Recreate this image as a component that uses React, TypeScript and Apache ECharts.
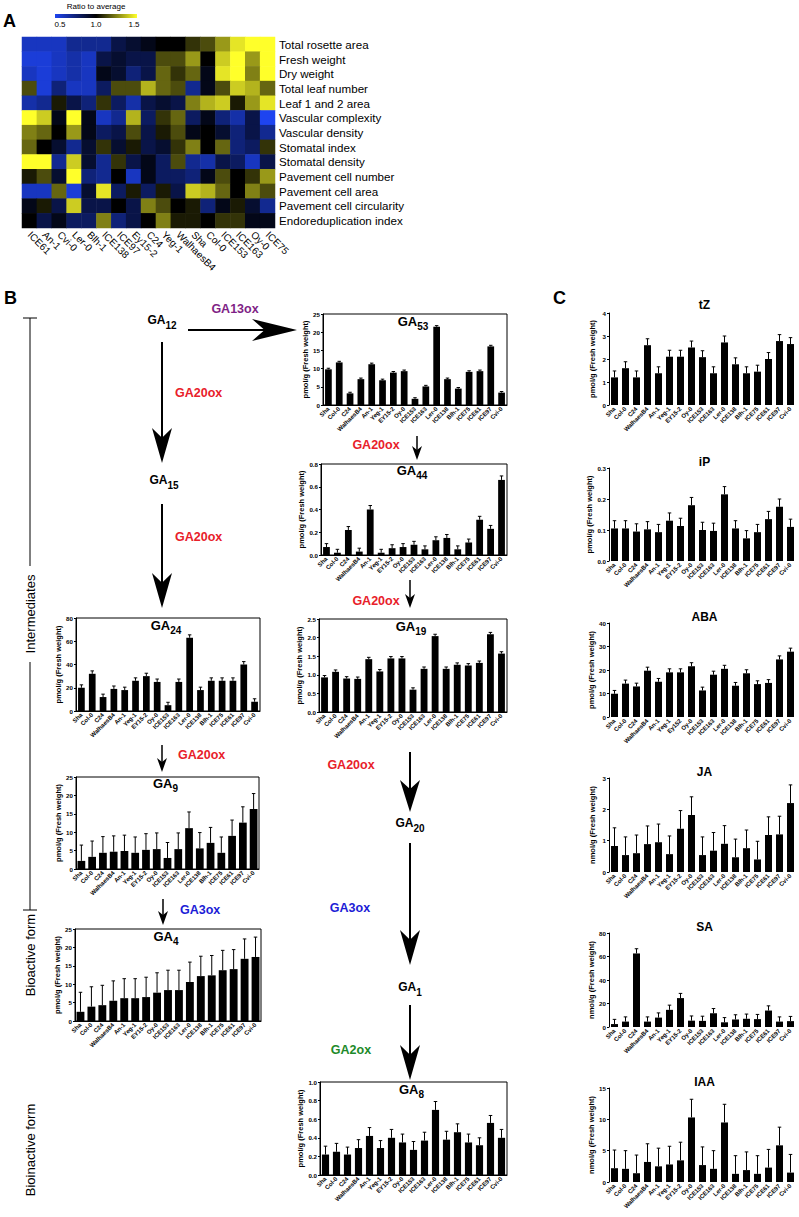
import React, { useEffect, useRef } from 'react';
import * as echarts from 'echarts';

const FONT = '"Liberation Sans", Arial, Helvetica, sans-serif';
const BLUE = '#1e44f0';
const YELLOW = '#ffff2a';

// ---------------- Panel A data ----------------
const heatColumns = ['ICE61', 'An-1', 'Cvi-0', 'Ler-0', 'Blh-1', 'ICE138', 'ICE97', 'Ey15-2', 'C24', 'Yeg-1', 'WalhaesB4', 'Sha', 'Col-0', 'ICE153', 'ICE163', 'Oy-0', 'ICE75'];
const traits = ['Total rosette area', 'Fresh weight', 'Dry weight', 'Total leaf number', 'Leaf 1 and 2 area', 'Vascular complexity', 'Vascular density', 'Stomatal index', 'Stomatal density', 'Pavement cell number', 'Pavement cell area', 'Pavement cell circularity', 'Endoreduplication index'];
const rowTotalRosette = [0.6, 0.6, 0.6, 0.7, 0.7, 0.7, 0.85, 0.9, 0.95, 1.0, 1.0, 1.1, 1.15, 1.3, 1.45, 1.5, 1.5];
const rowFreshWeight = [0.55, 0.55, 0.6, 0.65, 0.6, 0.85, 0.9, 0.85, 0.85, 1.15, 1.15, 1.3, 1.0, 1.4, 1.5, 1.3, 1.5];
const rowDryWeight = [0.6, 0.55, 0.6, 0.65, 0.6, 0.95, 0.9, 0.75, 0.85, 1.2, 1.1, 1.2, 0.95, 1.45, 1.5, 1.25, 1.5];
const rowLeafNumber = [1.15, 0.55, 0.75, 0.6, 0.6, 0.8, 1.15, 1.15, 1.35, 1.2, 1.15, 0.7, 0.95, 1.15, 1.4, 1.35, 1.2];
const rowLeafArea = [0.65, 0.7, 1.05, 0.85, 0.75, 1.1, 0.8, 0.65, 0.85, 0.9, 0.85, 1.25, 1.35, 1.4, 1.05, 1.3, 1.45];
const rowVascComplexity = [1.5, 1.4, 0.95, 1.5, 0.95, 0.6, 0.7, 1.35, 0.8, 1.1, 1.2, 0.8, 0.95, 0.75, 0.65, 0.85, 0.5];
const rowVascDensity = [1.25, 1.2, 1.0, 1.3, 0.95, 0.8, 0.85, 1.15, 0.85, 1.05, 1.15, 0.95, 1.0, 0.9, 0.75, 0.85, 0.7];
const rowStomIndex = [1.2, 1.0, 0.9, 0.7, 0.9, 1.1, 0.9, 1.05, 0.85, 0.9, 1.1, 1.25, 1.0, 1.2, 0.75, 0.8, 1.1];
const rowStomDensity = [1.5, 1.5, 0.7, 1.4, 0.9, 0.7, 1.1, 0.85, 0.95, 0.8, 1.15, 0.7, 0.65, 0.85, 0.8, 0.6, 0.85];
const rowPavNumber = [1.05, 1.15, 0.9, 1.5, 0.75, 0.7, 1.0, 0.6, 0.95, 0.8, 0.8, 0.75, 0.95, 1.15, 1.0, 1.1, 1.3];
const rowPavArea = [0.6, 0.6, 1.2, 0.55, 0.9, 1.45, 0.8, 1.05, 0.8, 1.05, 0.85, 1.4, 1.35, 1.2, 1.0, 1.25, 1.15];
const rowPavCirc = [0.95, 1.05, 0.85, 1.4, 0.85, 0.85, 1.0, 0.85, 1.25, 1.15, 1.0, 1.05, 0.75, 0.95, 1.05, 0.9, 0.7];
const rowEndo = [1.0, 0.85, 0.95, 0.8, 0.8, 1.25, 0.75, 0.85, 1.0, 1.25, 1.05, 1.05, 1.0, 1.1, 1.1, 0.95, 0.95];
const heatRows = [rowTotalRosette, rowFreshWeight, rowDryWeight, rowLeafNumber, rowLeafArea, rowVascComplexity, rowVascDensity, rowStomIndex, rowStomDensity, rowPavNumber, rowPavArea, rowPavCirc, rowEndo];
const ratioTicks = ['0.5', '1.0', '1.5'];

// ---------------- Panels B / C data ----------------
const accessions = ['Sha', 'Col-0', 'C24', 'WalhaesB4', 'An-1', 'Yeg-1', 'EY15-2', 'Oy-0', 'ICE153', 'ICE163', 'Ler-0', 'ICE138', 'Blh-1', 'ICE75', 'ICE61', 'ICE97', 'Cvi-0'];
const accessionsABA = ['Sha', 'Col-0', 'C24', 'WalhaesB4', 'An-1', 'Yeg-1', 'Ey152', 'Oy-0', 'ICE153', 'ICE163', 'Ler-0', 'ICE138', 'Blh-1', 'ICE75', 'ICE61', 'ICE97', 'Cvi-0'];

const ga53 = [9.8, 11.7, 3.2, 7.1, 11.2, 6.8, 8.9, 9.3, 1.7, 5.1, 21.5, 7.1, 4.5, 9.1, 9.3, 16.1, 3.4];
const ga53Err = [0.3, 0.3, 0.3, 0.3, 0.3, 0.3, 0.3, 0.3, 0.3, 0.3, 0.3, 0.3, 0.3, 0.3, 0.3, 0.3, 0.3];
const ga44 = [0.07, 0.02, 0.22, 0.03, 0.4, 0.02, 0.06, 0.07, 0.09, 0.05, 0.13, 0.15, 0.05, 0.11, 0.31, 0.23, 0.66];
const ga44Err = [0.03, 0.03, 0.03, 0.03, 0.035, 0.03, 0.03, 0.03, 0.03, 0.03, 0.03, 0.03, 0.03, 0.03, 0.03, 0.03, 0.035];
const ga19 = [0.93, 1.08, 0.9, 0.89, 1.42, 1.09, 1.44, 1.44, 0.6, 1.16, 2.04, 1.16, 1.27, 1.25, 1.32, 2.09, 1.57];
const ga19Err = [0.05, 0.05, 0.05, 0.05, 0.05, 0.05, 0.05, 0.05, 0.05, 0.05, 0.05, 0.05, 0.05, 0.05, 0.05, 0.05, 0.05];
const ga24 = [20, 32, 12, 19, 18, 26, 30, 25, 5, 25, 63, 18, 26, 26, 26, 40, 8];
const ga24Err = [2.5, 2.5, 2.5, 2.5, 2.5, 2.5, 2.5, 2.5, 2.5, 2.5, 2.5, 2.5, 2.5, 2.5, 2.5, 2.5, 2.5];
const ga9 = [2.2, 3.3, 4.4, 4.7, 4.9, 4.4, 5.2, 5.4, 3.0, 5.4, 11.1, 5.6, 7.1, 4.4, 9.0, 12.6, 16.3];
const ga9Err = [4.3, 4.3, 4.4, 4.3, 4.3, 4.3, 4.4, 4.4, 4.2, 4.4, 4.4, 4.3, 4.2, 4.3, 4.3, 4.3, 4.2];
const ga4 = [2.5, 3.9, 4.3, 5.5, 6.2, 6.2, 6.5, 7.7, 8.4, 8.4, 10.6, 12.2, 12.4, 13.8, 14.1, 16.9, 17.4];
const ga4Err = [5.3, 5.4, 5.4, 5.4, 5.3, 5.3, 5.4, 5.4, 5.4, 5.4, 5.4, 5.4, 5.4, 5.4, 5.3, 5.4, 5.4];
const ga8 = [0.22, 0.25, 0.22, 0.29, 0.42, 0.29, 0.4, 0.35, 0.27, 0.37, 0.7, 0.38, 0.46, 0.35, 0.32, 0.56, 0.4];
const ga8Err = [0.09, 0.09, 0.08, 0.09, 0.09, 0.08, 0.09, 0.09, 0.09, 0.09, 0.09, 0.09, 0.09, 0.09, 0.08, 0.08, 0.09];

const tZ = [1.2, 1.6, 1.2, 2.6, 1.38, 2.1, 2.1, 2.5, 2.08, 1.38, 2.72, 1.77, 1.38, 1.45, 2.0, 2.78, 2.65];
const tZErr = [0.28, 0.28, 0.28, 0.28, 0.28, 0.28, 0.28, 0.28, 0.28, 0.28, 0.28, 0.28, 0.28, 0.28, 0.28, 0.28, 0.28];
const iP = [0.105, 0.105, 0.095, 0.102, 0.093, 0.13, 0.113, 0.18, 0.1, 0.097, 0.215, 0.105, 0.073, 0.093, 0.135, 0.175, 0.11];
const iPErr = [0.025, 0.025, 0.025, 0.025, 0.025, 0.025, 0.025, 0.025, 0.025, 0.025, 0.025, 0.025, 0.025, 0.025, 0.025, 0.025, 0.025];
const aba = [9.9, 14.2, 13, 19.7, 15, 19, 19, 21.6, 11.3, 18, 20.5, 13.3, 18.6, 14, 14.5, 24.5, 27.8];
const abaErr = [1.4, 1.5, 1.4, 1.5, 1.4, 1.5, 1.5, 1.5, 1.4, 1.5, 1.5, 1.4, 1.5, 1.4, 1.4, 1.5, 1.5];
const ja = [0.83, 0.54, 0.6, 0.89, 0.95, 0.57, 1.38, 1.82, 0.54, 0.68, 0.9, 0.47, 0.76, 0.4, 1.18, 1.2, 2.2];
const jaErr = [0.58, 0.58, 0.58, 0.58, 0.58, 0.58, 0.58, 0.58, 0.58, 0.58, 0.58, 0.58, 0.58, 0.58, 0.58, 0.58, 0.58];
const sa = [2.5, 4.6, 62.6, 4.6, 8.0, 14.6, 24.6, 5.4, 5.2, 11.7, 4.0, 6.4, 7.0, 6.7, 14, 4.6, 5];
const saErr = [4, 4, 4, 4, 4, 4, 4, 4, 4, 4, 4, 4, 4, 4, 4, 4, 4];
const iaa = [2.2, 2.1, 1.4, 3.2, 2.5, 2.8, 3.45, 10.3, 2.7, 2.1, 9.5, 1.3, 1.9, 1.3, 2.3, 5.85, 1.5];
const iaaErr = [2.9, 2.9, 2.9, 2.9, 2.9, 2.9, 2.9, 2.9, 2.9, 2.9, 2.9, 2.9, 2.9, 2.9, 2.9, 2.9, 2.9];

const PMOL = 'pmol/g (Fresh weight)';
const NMOL = 'nmol/g (Fresh weight)';

type Panel = {
  title: string; sub?: string; vals: number[]; errs: number[]; max: number; step: number; dec: number;
  unit: string; box: [number, number, number, number]; framed: boolean; labels: string[]; titleY: number; bar: string;
};

const panels: Panel[] = [
  { title: 'GA', sub: '53', vals: ga53, errs: ga53Err, max: 25, step: 5, dec: 0, unit: PMOL, box: [323, 314, 184, 91], framed: true, labels: accessions, titleY: 325, bar: '62%' },
  { title: 'GA', sub: '44', vals: ga44, errs: ga44Err, max: 0.8, step: 0.2, dec: 1, unit: PMOL, box: [321, 464, 186, 91], framed: true, labels: accessions, titleY: 474, bar: '62%' },
  { title: 'GA', sub: '19', vals: ga19, errs: ga19Err, max: 2.5, step: 0.5, dec: 1, unit: PMOL, box: [319, 619, 188, 93], framed: true, labels: accessions, titleY: 630, bar: '62%' },
  { title: 'GA', sub: '8', vals: ga8, errs: ga8Err, max: 1.0, step: 0.2, dec: 1, unit: PMOL, box: [320, 1082, 187, 93], framed: true, labels: accessions, titleY: 1093, bar: '65%' },
  { title: 'GA', sub: '24', vals: ga24, errs: ga24Err, max: 80, step: 20, dec: 0, unit: PMOL, box: [76, 618, 184, 93], framed: true, labels: accessions, titleY: 629, bar: '62%' },
  { title: 'GA', sub: '9', vals: ga9, errs: ga9Err, max: 25, step: 5, dec: 0, unit: PMOL, box: [76, 777, 183, 92], framed: true, labels: accessions, titleY: 787, bar: '72%' },
  { title: 'GA', sub: '4', vals: ga4, errs: ga4Err, max: 25, step: 5, dec: 0, unit: PMOL, box: [75, 929, 186, 92], framed: true, labels: accessions, titleY: 940, bar: '72%' },
  { title: 'tZ', vals: tZ, errs: tZErr, max: 4, step: 1, dec: 0, unit: PMOL, box: [609, 313, 187, 92], framed: false, labels: accessions, titleY: 305, bar: '64%' },
  { title: 'iP', vals: iP, errs: iPErr, max: 0.3, step: 0.1, dec: 1, unit: PMOL, box: [609, 468, 187, 93], framed: false, labels: accessions, titleY: 462, bar: '64%' },
  { title: 'ABA', vals: aba, errs: abaErr, max: 40, step: 10, dec: 0, unit: PMOL, box: [609, 623, 187, 94], framed: false, labels: accessionsABA, titleY: 617, bar: '64%' },
  { title: 'JA', vals: ja, errs: jaErr, max: 3, step: 1, dec: 0, unit: NMOL, box: [609, 778, 187, 94], framed: false, labels: accessions, titleY: 772, bar: '64%' },
  { title: 'SA', vals: sa, errs: saErr, max: 80, step: 20, dec: 0, unit: NMOL, box: [609, 933, 187, 94], framed: false, labels: accessions, titleY: 927, bar: '64%' },
  { title: 'IAA', vals: iaa, errs: iaaErr, max: 15, step: 5, dec: 0, unit: NMOL, box: [609, 1088, 187, 94], framed: false, labels: accessions, titleY: 1082, bar: '64%' },
];

function subText(x: number, y: number, main: string, sub: string, mainSize: number, subSize: number): any {
  return {
    type: 'text', x, y, silent: true, z: 50,
    style: {
      text: `{m|${main}}{s|${sub}}`,
      align: 'center', verticalAlign: 'middle',
      rich: {
        m: { fontSize: mainSize, fontWeight: 'bold', fontFamily: FONT, fill: '#000', lineHeight: mainSize, padding: [0, 0, 4, 0], verticalAlign: 'bottom' },
        s: { fontSize: subSize, fontWeight: 'bold', fontFamily: FONT, fill: '#000', lineHeight: subSize, verticalAlign: 'bottom' },
      },
    },
  };
}

function plainText(x: number, y: number, text: string, size: number, color: string, bold: boolean, align = 'center', rotation = 0): any {
  return {
    type: 'text', x, y, rotation, silent: true, z: 50,
    style: { text, fill: color, fontSize: size, fontWeight: bold ? 'bold' : 'normal', fontFamily: FONT, align, verticalAlign: 'middle' },
  };
}

function vArrow(x: number, y1: number, y2: number, hl: number, hw: number, lw: number): any[] {
  return [
    { type: 'line', silent: true, z: 40, shape: { x1: x, y1, x2: x, y2: y2 - hl * 0.6 }, style: { stroke: '#000', lineWidth: lw } },
    { type: 'polygon', silent: true, z: 40, shape: { points: [[x, y2], [x - hw, y2 - hl], [x, y2 - hl * 0.72], [x + hw, y2 - hl]] }, style: { fill: '#000' } },
  ];
}

function hArrow(x1: number, x2: number, y: number, hl: number, hw: number, lw: number): any[] {
  return [
    { type: 'line', silent: true, z: 40, shape: { x1, y1: y, x2: x2 - hl * 0.6, y2: y }, style: { stroke: '#000', lineWidth: lw } },
    { type: 'polygon', silent: true, z: 40, shape: { points: [[x2, y], [x2 - hl, y - hw], [x2 - hl * 0.72, y], [x2 - hl, y + hw]] }, style: { fill: '#000' } },
  ];
}

function errorSeries(idx: number, vals: number[], errs: number[]): any {
  return {
    type: 'custom', xAxisIndex: idx, yAxisIndex: idx, z: 3, silent: true,
    renderItem: (_p: any, api: any) => {
      const i = api.value(0);
      const v = api.value(1);
      const e = api.value(2);
      const p0 = api.coord([i, v]);
      const p1 = api.coord([i, v + e]);
      const w = api.size([1, 0])[0] * 0.16;
      return {
        type: 'group',
        children: [
          { type: 'line', shape: { x1: p0[0], y1: p0[1], x2: p1[0], y2: p1[1] }, style: { stroke: '#000', lineWidth: 1 } },
          { type: 'line', shape: { x1: p1[0] - w, y1: p1[1], x2: p1[0] + w, y2: p1[1] }, style: { stroke: '#000', lineWidth: 1 } },
        ],
      };
    },
    data: vals.map((v, i) => [i, v, errs[i]]),
  };
}

function buildOption(): any {
  const grid: any[] = [];
  const xAxis: any[] = [];
  const yAxis: any[] = [];
  const series: any[] = [];
  const graphic: any[] = [];

  // ---- Heatmap (panel A)
  grid.push({ left: 22, top: 37, width: 253, height: 191 });
  xAxis.push({
    type: 'category', gridIndex: 0, data: heatColumns, position: 'bottom',
    axisLine: { show: false }, axisTick: { show: false }, splitLine: { show: false },
    axisLabel: { rotate: -45, interval: 0, fontSize: 10, color: '#000', fontFamily: FONT, margin: 5 },
  });
  yAxis.push({
    type: 'category', gridIndex: 0, data: traits, inverse: true, position: 'right',
    axisLine: { show: false }, axisTick: { show: false }, splitLine: { show: false },
    axisLabel: { interval: 0, fontSize: 11.6, color: '#000', fontFamily: FONT, margin: 4 },
  });
  const heatData: number[][] = [];
  heatRows.forEach((row, r) => row.forEach((v, c) => heatData.push([c, r, v])));
  series.push({ type: 'heatmap', xAxisIndex: 0, yAxisIndex: 0, data: heatData, silent: true });

  // ---- Bar panels
  panels.forEach((p, k) => {
    const idx = k + 1;
    const [l, t, w, h] = p.box;
    grid.push({ left: l, top: t, width: w, height: h, show: p.framed, borderColor: '#000', borderWidth: 1, backgroundColor: 'transparent' });
    xAxis.push({
      type: 'category', gridIndex: idx, data: p.labels,
      axisLine: { show: p.framed, lineStyle: { color: '#000', width: 1 } },
      axisTick: { show: false }, splitLine: { show: false },
      axisLabel: { rotate: 45, interval: 0, fontSize: 6, fontWeight: 'bold', color: '#000', fontFamily: FONT, margin: 3 },
    });
    yAxis.push({
      type: 'value', gridIndex: idx, min: 0, max: p.max, interval: p.step,
      axisLine: { show: true, lineStyle: { color: '#000', width: 1 } },
      axisTick: { show: true, length: 2, lineStyle: { color: '#000' } },
      splitLine: { show: false },
      axisLabel: { fontSize: 6.2, fontWeight: 'bold', color: '#000', fontFamily: FONT, margin: 3, formatter: (v: number) => v.toFixed(p.dec) },
      name: p.unit, nameLocation: 'middle', nameGap: p.dec ? 16 : 13,
      nameTextStyle: { fontSize: 7.5, fontWeight: 'bold', color: '#000', fontFamily: FONT },
    });
    series.push({ type: 'bar', xAxisIndex: idx, yAxisIndex: idx, data: p.vals, barWidth: p.bar, itemStyle: { color: '#000' }, z: 2, silent: true });
    series.push(errorSeries(idx, p.vals, p.errs));
    const cx = l + w / 2;
    if (p.sub) graphic.push(subText(cx - 2, p.titleY, p.title, p.sub, 13, 10));
    else graphic.push(plainText(cx + 2, p.titleY, p.title, 12, '#000', true));
  });

  // ---- Panel letters
  graphic.push(plainText(3, 21, 'A', 18, '#000', true, 'left'));
  graphic.push(plainText(4, 298, 'B', 18, '#000', true, 'left'));
  graphic.push(plainText(553, 298, 'C', 18, '#000', true, 'left'));

  // ---- Colour bar
  graphic.push({
    type: 'rect', silent: true, z: 40, shape: { x: 55, y: 14, width: 82, height: 4 },
    style: { fill: new echarts.graphic.LinearGradient(0, 0, 1, 0, [{ offset: 0, color: BLUE }, { offset: 0.5, color: '#000' }, { offset: 1, color: YELLOW }]) },
  });
  graphic.push(plainText(96, 6, 'Ratio to average', 8, '#000', false));
  const tickX = [60, 96, 134];
  ratioTicks.forEach((t, i) => graphic.push(plainText(tickX[i], 24, t, 8, '#000', false)));

  // ---- Pathway (left column)
  graphic.push(subText(162, 324, 'GA', '12', 12, 10));
  graphic.push(...hArrow(188, 297, 330, 45, 11, 2));
  graphic.push(plainText(235, 309, 'GA13ox', 12.5, '#7f1f86', true));
  graphic.push(...vArrow(162, 342, 463, 35, 10, 2));
  graphic.push(plainText(175, 393, 'GA20ox', 12.5, '#e8202a', true, 'left'));
  graphic.push(subText(164, 484, 'GA', '15', 12, 10));
  graphic.push(...vArrow(162, 504, 608, 35, 10, 2));
  graphic.push(plainText(175, 537, 'GA20ox', 12.5, '#e8202a', true, 'left'));
  graphic.push(...vArrow(162, 745, 772, 14, 5, 1.5));
  graphic.push(plainText(178, 755, 'GA20ox', 12.5, '#e8202a', true, 'left'));
  graphic.push(...vArrow(163, 899, 925, 14, 5, 1.5));
  graphic.push(plainText(180, 910, 'GA3ox', 12.5, '#1c1cd6', true, 'left'));

  // ---- Pathway (middle column)
  graphic.push(...vArrow(417, 436, 460, 14, 5, 1.5));
  graphic.push(plainText(376, 445, 'GA20ox', 12.5, '#e8202a', true));
  graphic.push(...vArrow(410, 580, 608, 14, 5, 1.5));
  graphic.push(plainText(376, 601, 'GA20ox', 12.5, '#e8202a', true));
  graphic.push(...vArrow(410, 752, 812, 32, 10, 2));
  graphic.push(plainText(351, 765, 'GA20ox', 12.5, '#e8202a', true));
  graphic.push(subText(410, 827, 'GA', '20', 12, 10));
  graphic.push(...vArrow(410, 843, 965, 35, 10, 2));
  graphic.push(plainText(350, 908, 'GA3ox', 12.5, '#1c1cd6', true));
  graphic.push(subText(410, 991, 'GA', '1', 12, 10));
  graphic.push(...vArrow(410, 1005, 1080, 35, 10, 2));
  graphic.push(plainText(351, 1050, 'GA2ox', 12.5, '#1d8a2a', true));

  // ---- Left bracket and side labels
  graphic.push({ type: 'line', silent: true, z: 40, shape: { x1: 30, y1: 318, x2: 30, y2: 566 }, style: { stroke: '#000', lineWidth: 1 } });
  graphic.push({ type: 'line', silent: true, z: 40, shape: { x1: 30, y1: 662, x2: 30, y2: 910 }, style: { stroke: '#000', lineWidth: 1 } });
  graphic.push({ type: 'line', silent: true, z: 40, shape: { x1: 23, y1: 318, x2: 37, y2: 318 }, style: { stroke: '#000', lineWidth: 1 } });
  graphic.push({ type: 'line', silent: true, z: 40, shape: { x1: 23, y1: 910, x2: 37, y2: 910 }, style: { stroke: '#000', lineWidth: 1 } });
  graphic.push(plainText(30, 614, 'Intermediates', 13, '#000', false, 'center', Math.PI / 2));
  graphic.push(plainText(30, 955, 'Bioactive form', 13, '#000', false, 'center', Math.PI / 2));
  graphic.push(plainText(30, 1150, 'Bioinactive form', 13, '#000', false, 'center', Math.PI / 2));

  return {
    animation: false,
    backgroundColor: '#fff',
    textStyle: { fontFamily: FONT },
    visualMap: { type: 'continuous', min: 0.5, max: 1.5, seriesIndex: 0, show: false, inRange: { color: [BLUE, '#000000', YELLOW] } },
    grid, xAxis, yAxis, series, graphic,
  };
}

export default function App() {
  const ref = useRef<HTMLDivElement>(null);
  useEffect(() => {
    document.body.style.margin = '0';
    const chart = echarts.init(ref.current!, null, { renderer: 'svg' });
    chart.setOption(buildOption());
    return () => chart.dispose();
  }, []);
  return <div ref={ref} style={{ position: 'absolute', left: 0, top: 0, width: 799, height: 1217 }} />;
}
